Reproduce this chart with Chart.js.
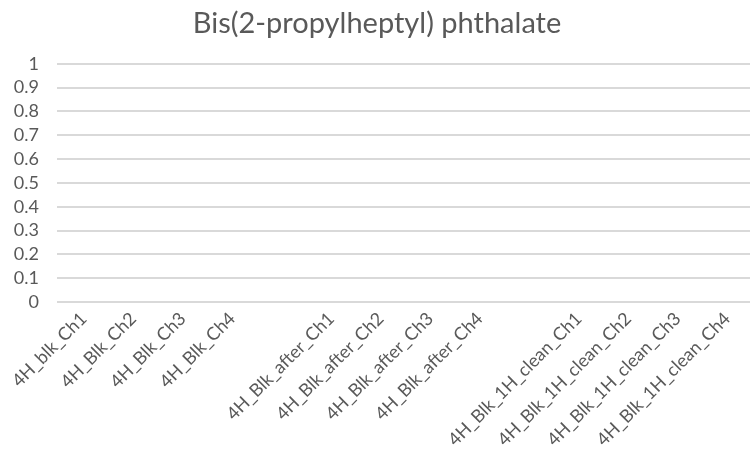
<!DOCTYPE html>
<html>
<head>
<meta charset="utf-8">
<script src="https://cdn.jsdelivr.net/npm/chart.js@4/dist/chart.umd.min.js"></script>
<style>
html,body{margin:0;padding:0;background:#fff;}
#wrap{width:755px;height:462px;position:relative;}
</style>
</head>
<body>
<div id="wrap"><canvas id="c" width="755" height="462"></canvas></div>
<script>
const chartTitle = 'Bis(2-propylheptyl) phthalate';
const categories = [
  '4H_blk_Ch1','4H_Blk_Ch2','4H_Blk_Ch3','4H_Blk_Ch4','',
  '4H_Blk_after_Ch1','4H_Blk_after_Ch2','4H_Blk_after_Ch3','4H_Blk_after_Ch4','',
  '4H_Blk_1H_clean_Ch1','4H_Blk_1H_clean_Ch2','4H_Blk_1H_clean_Ch3','4H_Blk_1H_clean_Ch4'
];
// No values are plotted in the reference: every point is empty
const seriesValues = [null,null,null,null,null,null,null,null,null,null,null,null,null,null];
const yTicks = [0,0.1,0.2,0.3,0.4,0.5,0.6,0.7,0.8,0.9,1];

const textColor = '#595959';
const fontFamily = 'Lato, "Open Sans", sans-serif';

new Chart(document.getElementById('c'), {
  type: 'bar',
  data: {
    labels: categories,
    datasets: [{
      label: chartTitle,
      data: seriesValues,
      backgroundColor: '#4472c4'
    }]
  },
  options: {
    responsive: false,
    animation: false,
    devicePixelRatio: 1,
    layout: { padding: { left: 4, right: 5, top: 6, bottom: 0 } },
    plugins: {
      legend: { display: false },
      tooltip: { enabled: false },
      title: {
        display: true,
        text: chartTitle,
        color: textColor,
        font: { family: fontFamily, size: 29, weight: 'normal' },
        padding: { top: 0, bottom: 23 }
      }
    },
    scales: {
      x: {
        grid: { display: false, drawTicks: false },
        border: { display: false },
        afterFit: (scale) => { scale.height = 160; },
        ticks: {
          color: textColor,
          font: { family: fontFamily, size: 18 },
          minRotation: 45,
          maxRotation: 45,
          autoSkip: false,
          padding: 6,
          labelOffset: 2
        }
      },
      y: {
        min: 0,
        max: 1,
        afterBuildTicks: (scale) => { scale.ticks = yTicks.map(v => ({ value: v })); },
        afterFit: (scale) => { scale.width = 53; },
        grid: { color: '#d9d9d9', lineWidth: 2, drawTicks: false },
        border: { display: false },
        ticks: {
          color: textColor,
          font: { family: fontFamily, size: 18 },
          padding: 18,
          autoSkip: false,
          callback: (v) => String(Math.round(v * 10) / 10)
        }
      }
    }
  }
});
</script>
</body>
</html>
